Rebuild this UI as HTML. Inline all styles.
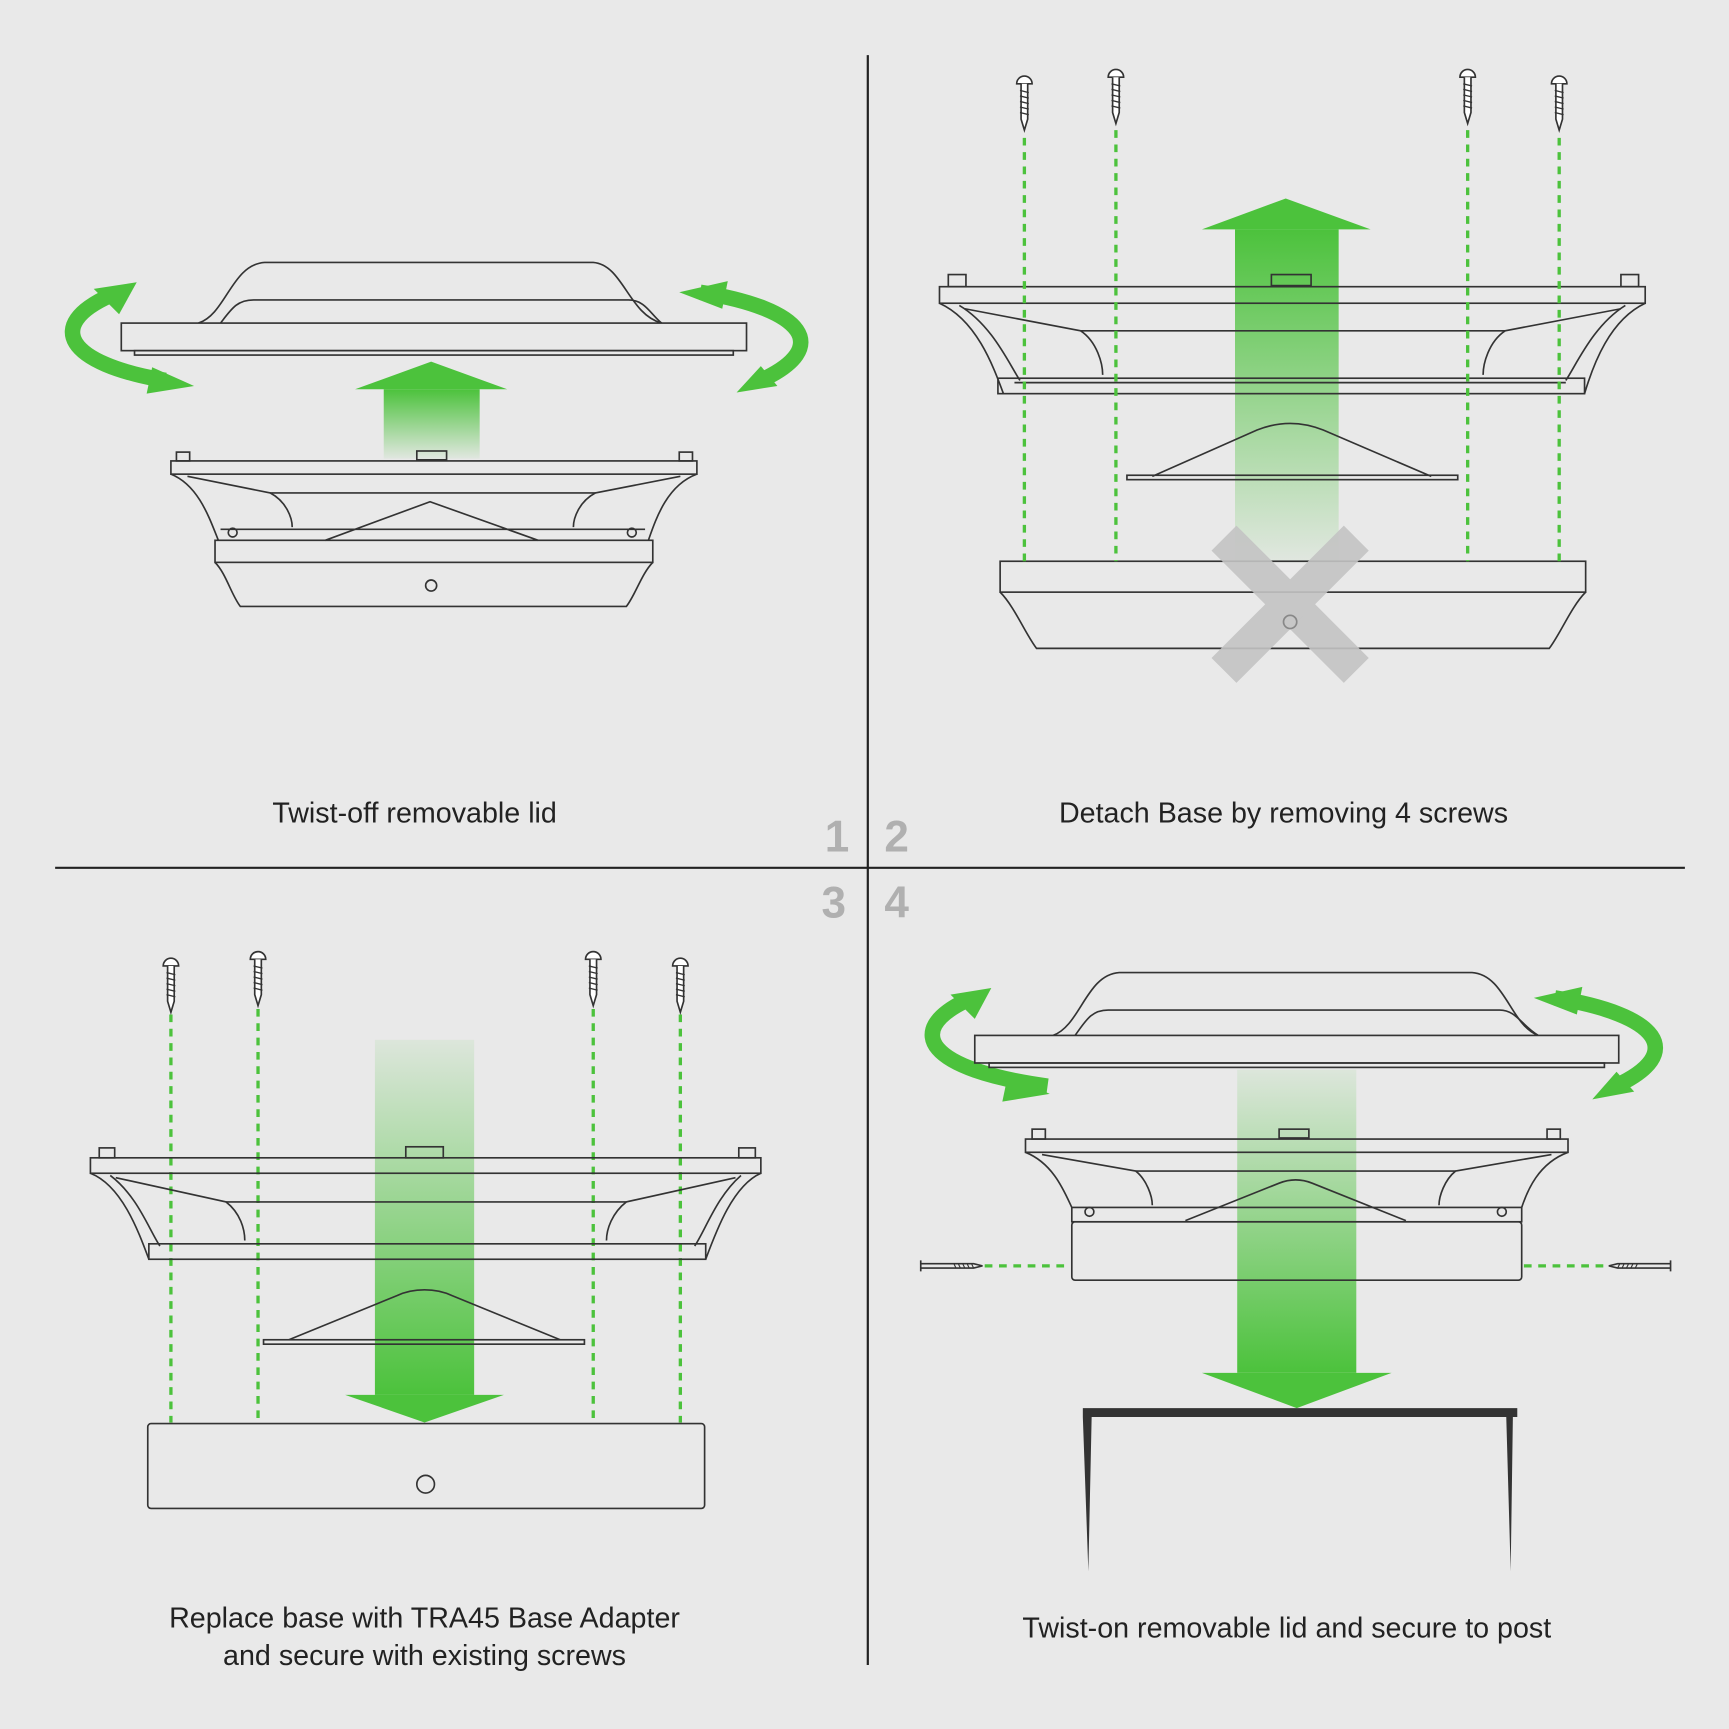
<!DOCTYPE html>
<html><head><meta charset="utf-8"><style>
html,body{margin:0;padding:0;background:#e9e9e9;}
svg{display:block;}
text{font-family:"Liberation Sans",sans-serif;}
</style></head><body>
<svg width="1729" height="1729" viewBox="0 0 1568 1568" xmlns="http://www.w3.org/2000/svg">
<defs>
<linearGradient id="gu" x1="0" y1="0" x2="0" y2="1"><stop offset="0" stop-color="#4cc23c"/><stop offset="1" stop-color="#4cc23c" stop-opacity="0.05"/></linearGradient>
<linearGradient id="gd" x1="0" y1="0" x2="0" y2="1"><stop offset="0" stop-color="#4cc23c" stop-opacity="0.08"/><stop offset="1" stop-color="#4cc23c"/></linearGradient>
<g id="screw"><path d="M-7,8 A7,7 0 0 1 7,8 Z" fill="#fff" stroke="#333" stroke-width="1.5"/><path d="M-3,8 L-3,40 L0,50 L3,40 L3,8" fill="#fff" stroke="#333" stroke-width="1.5"/><path d="M-4,14 L4,16 M-4,19 L4,21 M-4,24 L4,26 M-4,29 L4,31 M-4,34 L4,36" stroke="#333" stroke-width="1.2"/></g>
<g id="nail"><path d="M0,-5 L0,5 M0,-2 L48,-2 L56,0 L48,2 L0,2" fill="none" stroke="#333" stroke-width="1.5"/><path d="M30,-2 L32,2 M34,-2 L36,2 M38,-2 L40,2 M42,-2 L44,2 M46,-2 L48,2" stroke="#333" stroke-width="1"/></g>
</defs>
<rect width="1568" height="1568" fill="#e9e9e9"/>
<g stroke="#222" stroke-width="2"><line x1="787" y1="50" x2="787" y2="1510"/><line x1="50" y1="787" x2="1528" y2="787"/></g>
<g font-weight="bold" font-size="40" fill="#b0b0b0"><text x="748" y="772">1</text><text x="802" y="772">2</text><text x="745" y="832">3</text><text x="802" y="832">4</text></g>
<g font-size="26" fill="#222" text-anchor="middle">
<text x="376" y="746">Twist-off removable lid</text>
<text x="1164" y="746">Detach Base by removing 4 screws</text>
<text x="385" y="1476">Replace base with TRA45 Base Adapter</text>
<text x="385" y="1510">and secure with existing screws</text>
<text x="1167" y="1485">Twist-on removable lid and secure to post</text>
</g>
<g fill="none" stroke="#333" stroke-width="1.5">
<!-- Panel 1 lid -->
<path d="M180,293 C205,285 210,240 240,238 L538,238 C565,240 570,285 600,293"/>
<path d="M200,293 C210,280 215,272 230,272 L570,272 C585,272 590,285 600,293"/>
<rect x="110" y="293" width="567" height="25" fill="#e9e9e9"/>
<rect x="122" y="318" width="543" height="4"/>
</g>
<!-- up arrow 1 -->
<rect x="348" y="353" width="87" height="63" fill="url(#gu)"/>
<polygon points="322,353 460,353 391,328" fill="#4cc23c"/>
<g fill="none" stroke="#333" stroke-width="1.5">
<rect x="160" y="410" width="12" height="8"/><rect x="616" y="410" width="12" height="8"/><rect x="378" y="409" width="27" height="8"/>
<rect x="155" y="418" width="477" height="12"/>
<path d="M155,430 C180,440 190,470 198,490 M632,430 C605,440 595,470 588,490"/>
<path d="M170,432 L245,447 C260,455 265,470 265,478 M617,432 L540,447 C525,455 520,470 520,478"/>
<line x1="245" y1="447" x2="540" y2="447"/>
<line x1="200" y1="480" x2="585" y2="480"/>
<path d="M295,490 L390,455 L488,490"/>
<rect x="195" y="490" width="397" height="20"/>
<path d="M195,510 C205,520 210,540 218,550 L568,550 C576,540 582,520 592,510"/>
<circle cx="391" cy="531" r="5"/>
<circle cx="211" cy="483" r="4"/><circle cx="573" cy="483" r="4"/>
</g>
<g fill="none" stroke="#4cc23c" stroke-width="14">
<path d="M150,345 C60,330 40,295 100,268"/>
<path d="M635,265 C730,280 755,315 690,345"/>
<path d="M950,985 C840,970 820,935 875,908"/>
<path d="M1410,905 C1505,920 1530,955 1465,985"/>
</g>
<g fill="#4cc23c">
<polygon points="124,256 85,262 108,285"/><polygon points="176,350 138,333 133,357"/>
<polygon points="616,265 660,255 655,280"/><polygon points="668,356 705,350 690,332"/>
<polygon points="899,896 862,902 884,924"/><polygon points="952,992 914,975 909,999"/>
<polygon points="1391,905 1435,895 1430,920"/><polygon points="1444,997 1482,990 1466,972"/>
</g>
<!-- Panel 2 -->
<rect x="1120" y="208" width="94" height="302" fill="url(#gu)"/>
<polygon points="1090,208 1243,208 1166,180" fill="#4cc23c"/>
<g fill="none" stroke="#333" stroke-width="1.5">
<rect x="860" y="249" width="16" height="11"/><rect x="1470" y="249" width="16" height="11"/><rect x="1153" y="249" width="36" height="10"/>
<rect x="852" y="260" width="640" height="15"/>
<path d="M852,275 C885,290 900,330 910,357 M1492,275 C1460,290 1445,330 1437,357"/>
<path d="M870,277 C900,295 915,330 925,345 M1474,277 C1445,295 1430,330 1420,345"/>
<path d="M875,280 L980,300 C995,310 1000,330 1000,340 M1470,280 L1365,300 C1350,310 1345,330 1345,340"/>
<line x1="980" y1="300" x2="1365" y2="300"/>
<rect x="905" y="343" width="532" height="14"/>
<line x1="920" y1="347" x2="1420" y2="347"/>
<path d="M1045,432 L1140,390 C1160,382 1180,382 1200,390 L1298,432"/>
<rect x="1022" y="431" width="300" height="4"/>
<rect x="907" y="509" width="531" height="28"/>
<path d="M907,537 C920,550 930,575 940,588 L1405,588 C1415,575 1425,550 1438,537"/>
<circle cx="1170" cy="564" r="6"/>
</g>
<g stroke="#c4c4c4" stroke-width="32" opacity="0.9"><line x1="1110" y1="488" x2="1230" y2="608"/><line x1="1230" y1="488" x2="1110" y2="608"/></g>
<circle cx="1170" cy="564" r="6" fill="none" stroke="#888" stroke-width="1.5"/>
<g stroke="#4cc23c" stroke-width="3" stroke-dasharray="7,6">
<line x1="929" y1="125" x2="929" y2="509"/><line x1="1012" y1="118" x2="1012" y2="509"/><line x1="1331" y1="118" x2="1331" y2="509"/><line x1="1414" y1="125" x2="1414" y2="509"/>
<line x1="155" y1="920" x2="155" y2="1290"/><line x1="234" y1="915" x2="234" y2="1290"/><line x1="538" y1="915" x2="538" y2="1290"/><line x1="617" y1="920" x2="617" y2="1290"/>
<line x1="893" y1="1148" x2="970" y2="1148"/><line x1="1382" y1="1148" x2="1455" y2="1148"/>
</g>
<use href="#screw" x="929" y="68"/><use href="#screw" x="1012" y="62"/><use href="#screw" x="1331" y="62"/><use href="#screw" x="1414" y="68"/>
<use href="#screw" x="155" y="868"/><use href="#screw" x="234" y="862"/><use href="#screw" x="538" y="862"/><use href="#screw" x="617" y="868"/>
<!-- Panel 3 -->
<rect x="340" y="943" width="90" height="322" fill="url(#gd)"/>
<polygon points="313,1265 457,1265 385,1290" fill="#4cc23c"/>
<g fill="none" stroke="#333" stroke-width="1.5">
<rect x="90" y="1041" width="14" height="9"/><rect x="670" y="1041" width="15" height="9"/><rect x="368" y="1040" width="34" height="10"/>
<rect x="82" y="1050" width="608" height="14"/>
<path d="M82,1064 C110,1075 125,1115 135,1142 M690,1064 C665,1075 650,1115 640,1142"/>
<path d="M100,1066 C125,1085 135,1115 145,1130 M672,1066 C650,1085 640,1115 630,1130"/>
<path d="M105,1068 L205,1090 C218,1100 222,1115 222,1125 M667,1068 L568,1090 C555,1100 550,1115 550,1125"/>
<line x1="205" y1="1090" x2="568" y2="1090"/>
<rect x="135" y="1128" width="505" height="14"/>
<path d="M262,1215 L360,1175 C375,1168 395,1168 410,1175 L508,1215"/>
<rect x="239" y="1215" width="291" height="4"/>
<rect x="134" y="1291" width="505" height="77" rx="3"/>
<circle cx="386" cy="1346" r="8"/>
</g>
<!-- Panel 4 -->
<rect x="1122" y="970" width="108" height="275" fill="url(#gd)"/>
<polygon points="1090,1245 1262,1245 1176,1277" fill="#4cc23c"/>
<g fill="none" stroke="#333" stroke-width="1.5">
<path d="M955,939 C980,930 985,884 1015,882 L1335,882 C1365,884 1370,930 1395,939"/>
<path d="M975,939 C985,925 990,916 1005,916 L1360,916 C1375,916 1380,930 1395,939"/>
<rect x="884" y="939" width="584" height="25" fill="#e9e9e9"/>
<rect x="897" y="964" width="558" height="4"/>
<rect x="936" y="1024" width="12" height="9"/><rect x="1403" y="1024" width="12" height="9"/><rect x="1160" y="1024" width="27" height="8"/>
<rect x="930" y="1033" width="492" height="12"/>
<path d="M930,1045 C955,1055 965,1080 972,1095 M1422,1045 C1395,1055 1385,1080 1380,1095"/>
<path d="M945,1047 L1030,1062 C1040,1070 1045,1085 1045,1093 M1407,1047 L1320,1062 C1310,1070 1305,1085 1305,1093"/>
<line x1="1030" y1="1062" x2="1320" y2="1062"/>
<path d="M1075,1107 L1160,1073 C1170,1069 1180,1069 1190,1073 L1275,1107"/>
<rect x="972" y="1095" width="408" height="13"/>
<rect x="972" y="1108" width="408" height="53" rx="3"/>
<circle cx="988" cy="1099" r="4"/><circle cx="1362" cy="1099" r="4"/>
</g>
<use href="#nail" x="835" y="1148"/>
<use href="#nail" transform="translate(1515,1148) scale(-1,1)"/>
<polygon points="982,1277 1376,1277 1376,1285 1372,1285 1370,1425 1366,1285 990,1285 987,1425 982,1285" fill="#333"/>
</svg>
</body></html>
